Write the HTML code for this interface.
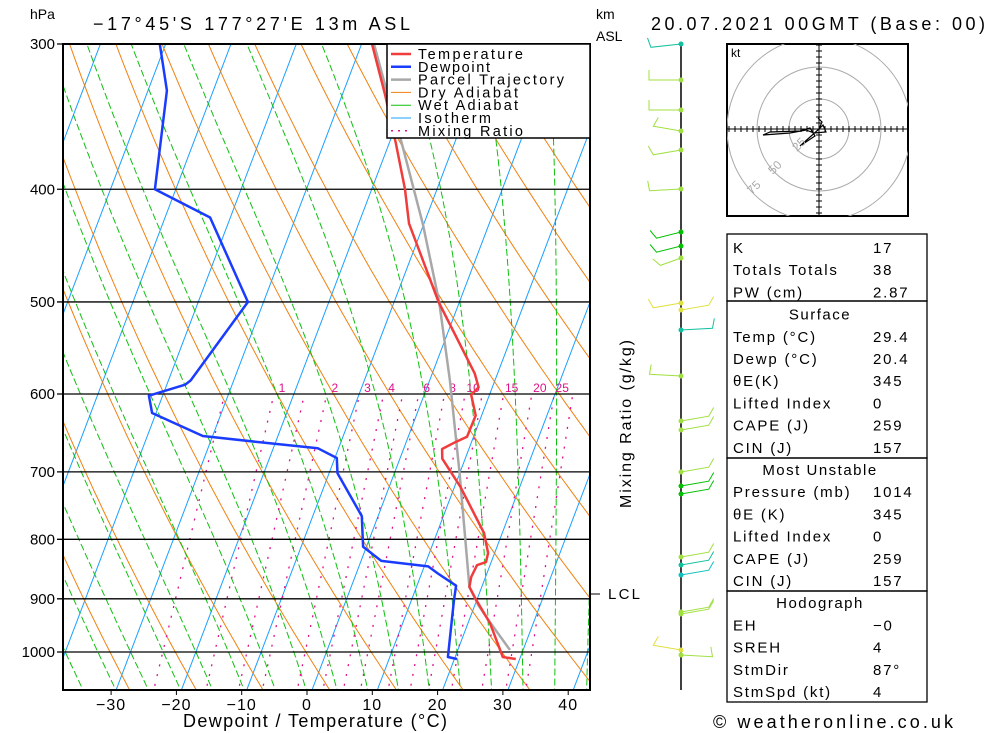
<!DOCTYPE html>
<html><head><meta charset="utf-8"><style>
html,body{margin:0;padding:0;background:#fff;}
svg{display:block;font-family:"Liberation Sans",sans-serif;}
</style></head><body>
<svg id="chart" width="1000" height="733" viewBox="0 0 1000 733" xmlns="http://www.w3.org/2000/svg">
<defs><clipPath id="plotclip"><rect x="63" y="44" width="527" height="646"/></clipPath>
<clipPath id="hodoclip"><rect x="727" y="44" width="181" height="172"/></clipPath></defs>
<rect x="0" y="0" width="1000" height="733" fill="#fff"/>
<text x="30" y="19" font-size="14">hPa</text>
<text x="93" y="30" font-size="18" textLength="317" lengthAdjust="spacing">−17°45'S 177°27'E 13m ASL</text>
<text x="596" y="19" font-size="14">km</text>
<text x="596" y="41" font-size="14">ASL</text>
<text x="651" y="30" font-size="18" textLength="334" lengthAdjust="spacing">20.07.2021 00GMT (Base: 00)</text>
<g id="bg" clip-path="url(#plotclip)"></g>
<g id="grid"></g>
<g id="series" clip-path="url(#plotclip)"></g>
<rect x="63" y="44" width="527" height="646" fill="none" stroke="#000" stroke-width="2"/>
<g id="legend"></g>
<g id="xaxis"></g>
<text x="183" y="727" font-size="18" textLength="264" lengthAdjust="spacing">Dewpoint / Temperature (°C)</text>
<text transform="translate(631,508) rotate(-90)" font-size="16" textLength="168" lengthAdjust="spacing">Mixing Ratio (g/kg)</text>
<line x1="590" y1="594" x2="600" y2="594" stroke="#000"/>
<text x="608" y="599" font-size="15" textLength="32" lengthAdjust="spacing">LCL</text>
<g id="winds"></g>
<g id="hodo"></g>
<g id="table"></g>
<text x="713" y="728" font-size="18" textLength="240" lengthAdjust="spacing">© weatheronline.co.uk</text>
</svg>
<script>
// ---- data ----
const pLevels = [300,400,500,600,700,800,900,1000];
const tTicks = [-30,-20,-10,0,10,20,30,40];
const tempP = [300,332,365,400,428,500,576,592,601,626,653,660,669,682,721,790,822,837,842,862,879,902,945,1010,1014];
const tempT = [-28.4,-23.4,-19.0,-14.9,-12.3,-3.2,6.5,7.9,7.2,9.1,9.0,7.5,5.9,6.5,10.9,17.2,19.0,19.2,18.0,17.8,18.1,19.9,23.4,27.3,29.4];
const dewP = [300,329,400,423,500,584,589,602,623,652,661,668,681,702,764,812,835,844,856,877,902,1010,1014];
const dewT = [-60.9,-57.1,-53.2,-43.1,-32.4,-36.6,-37.2,-42.1,-40.6,-31.5,-21.4,-13.2,-9.7,-8.7,-2.5,-0.5,3.1,10.6,12.5,16.0,16.5,18.9,20.4];
const parcelP = [300,332,365,428,500,584,702,879,911,945,996];
const parcelT = [-28.1,-23.0,-18.1,-10.2,-3.1,3.1,10.0,18.1,20.5,23.5,28.0];
const mixRatios = [0.5,1,1.5,2,3,4,5,6,8,10,12,15,20,25,30];
const mixLabels = ["1","2","3","4","6","8","10","15","20","25"];
const mixLabelVals = [1,2,3,4,6,8,10,15,20,25];
const tableRows = [
 ["K","17"],["Totals Totals","38"],["PW (cm)","2.87"],
 ["#Surface"],["Temp (°C)","29.4"],["Dewp (°C)","20.4"],["θE(K)","345"],["Lifted Index","0"],["CAPE (J)","259"],["CIN (J)","157"],
 ["#Most Unstable"],["Pressure (mb)","1014"],["θE (K)","345"],["Lifted Index","0"],["CAPE (J)","259"],["CIN (J)","157"],
 ["#Hodograph"],["EH","−0"],["SREH","4"],["StmDir","87°"],["StmSpd (kt)","4"]];
const windY = [44,80,110,131,150,189,232,246,258,303,310,330,376,421,430,472,486,494,557,565,575,612,614,650,655];
const windDir = [250,270,270,300,240,260,230,230,220,240,60,80,280,60,60,60,60,60,60,60,60,60,60,300,100];
const windCol = ["#10c0a0","#a0e040","#a0e040","#a0e040","#a0e040","#a0e040","#00c000","#00c000","#a0e040","#e0e040","#e0e040","#10c0a0","#a0e040","#a0e040","#a0e040","#a0e040","#00c000","#00c000","#a0e040","#10c0a0","#10c0c0","#a0e040","#a0e040","#e0e040","#a0e040"];

// ---- axes ----
const NS="http://www.w3.org/2000/svg";
function yOf(p){return 652-505*Math.log(1000/p);}
function xOf(T,p){return 312+6.53*T+0.38*(690-yOf(p));}
function mk(tag,attrs,parent){const e=document.createElementNS(NS,tag);for(const k in attrs)e.setAttribute(k,attrs[k]);parent.appendChild(e);return e;}
function pathFrom(pts){return pts.map((q,i)=>(i?"L":"M")+q[0].toFixed(1)+","+q[1].toFixed(1)).join("");}
const bg=document.getElementById('bg');
const P0=250,P1=1090;
for(let T=-120;T<=50;T+=10){
  const l=mk('line',{x1:xOf(T,P1),y1:yOf(P1),x2:xOf(T,P0),y2:yOf(P0),stroke:'#1aa0ff','stroke-width':1},bg);
  
  
}
for(let th=220;th<=480;th+=10){
  const pts=[];for(let p=P1;p>=P0;p-=10){pts.push([xOf(th*Math.pow(p/1000,0.286)-273.15,p),yOf(p)]);}
  const e=mk('path',{d:pathFrom(pts),fill:'none',stroke:'#f08010','stroke-width':1},bg);
  
  
}
function es(T){return 6.112*Math.exp(17.67*T/(T+243.5));}
function dTdp(T,p){const Tk=T+273.15;const rs=0.622*es(T)/(p-es(T));const Rd=287,Lv=2.5e6,cp=1004;
  return (Rd*Tk+Lv*rs)/(p*(cp+Lv*Lv*rs*0.622/(Rd*Tk*Tk)));}
for(let t0=-40;t0<=40;t0+=5){
  const up=[];let T=t0;for(let p=1000;p>=P0;p-=5){up.push([xOf(T,p),yOf(p)]);T-=dTdp(T,p)*5;}
  const dn=[];T=t0;for(let p=1000;p<=P1;p+=5){dn.push([xOf(T,p),yOf(p)]);T+=dTdp(T,p)*5;}
  const pts=dn.reverse().concat(up);
  const e=mk('path',{d:pathFrom(pts),fill:'none',stroke:'#10c010','stroke-width':1,'stroke-dasharray':'7,3'},bg);
  
  
}
function tdOf(w,p){const e=w*p/(622+w);const l=Math.log(e/6.112);return 243.5*l/(17.67-l);}
mixRatios.forEach(w=>{
  const e=mk('line',{x1:xOf(tdOf(w,P1),P1),y1:yOf(P1),x2:xOf(tdOf(w,600),600),y2:yOf(600),stroke:'#e0108a','stroke-width':1.3,'stroke-dasharray':'2,8'},bg);
  
  
});
mixLabelVals.forEach((w,i)=>{
  const t=mk('text',{x:xOf(tdOf(w,600),600)+8,y:yOf(600)-2,'font-size':12,fill:'#e0108a','text-anchor':'middle'},bg);
  t.textContent=mixLabels[i];
  
  
});
const grid=document.getElementById('grid');
pLevels.forEach(p=>{
  const y=yOf(p);
  const l=mk('line',{x1:57,y1:y,x2:590,y2:y,stroke:'#000','stroke-width':1.3},grid);
  
  
  const t=mk('text',{x:55,y:y+5,'font-size':15,'text-anchor':'end'},grid);
  t.textContent=p;
  
  
});
const xa=document.getElementById('xaxis');
tTicks.forEach(T=>{
  const x=312+6.53*T-5;
  const l=mk('line',{x1:x,y1:690,x2:x,y2:695,stroke:'#000'},xa);
  
  
  const t=mk('text',{x:x,y:710,'font-size':16,'text-anchor':'middle','letter-spacing':1},xa);
  t.textContent=(T<0?'−'+(-T):T);
  
  
});
const sg=document.getElementById('series');
function drawSeries(P,T,color,w,name){
  const pts=P.map((p,i)=>[xOf(T[i],p),yOf(p)]);
  const e=mk('path',{d:pathFrom(pts),fill:'none',stroke:color,'stroke-width':w,'stroke-linejoin':'round'},sg);
  
  
}
drawSeries(parcelP,parcelT,'#a8a8a8',2.5,'parcel-trajectory-line');
drawSeries(dewP,dewT,'#1a3cff',2.5,'dewpoint-line');
drawSeries(tempP,tempT,'#f03c3c',2.5,'temperature-line');
const lg=document.getElementById('legend');
mk('rect',{x:387,y:44,width:203,height:94,fill:'#fff',stroke:'#000','stroke-width':1.5},lg);
const legItems=[["Temperature","#f03c3c",2.5,"",105],["Dewpoint","#1a3cff",2.5,"",72],["Parcel Trajectory","#a8a8a8",2.5,"",146],["Dry Adiabat","#f08010",1,"",100],["Wet Adiabat","#10c010",1,"",100],["Isotherm","#1aa0ff",1,"",73],["Mixing Ratio","#e0108a",1.5,"2,5",105]];
legItems.forEach((it,i)=>{
  const y=54+i*12.8;
  const l=mk('line',{x1:391,y1:y,x2:411,y2:y,stroke:it[1],'stroke-width':it[2],'stroke-dasharray':it[3]||'none'},lg);
  
  
  const t=mk('text',{x:418,y:y+5,'font-size':14.5,textLength:it[4],lengthAdjust:'spacing'},lg);
  t.textContent=it[0];
  
  
});
const wg=document.getElementById('winds');
mk('line',{x1:681,y1:44,x2:681,y2:690,stroke:'#000','stroke-width':1.5},wg);
windY.forEach((y,i)=>{
  const a=windDir[i]*Math.PI/180;const L=32;
  const x2=681+L*Math.sin(a),y2=y-L*Math.cos(a)*0.3;
  const fx=x2+10*Math.cos(a),fy=y2-10*Math.abs(Math.sin(a));
  const e=mk('polyline',{points:`681,${y} ${x2.toFixed(1)},${y2.toFixed(1)} ${fx.toFixed(1)},${fy.toFixed(1)}`,fill:'none',stroke:windCol[i],'stroke-width':1},wg);
  
  
  const c=mk('circle',{cx:681,cy:y,r:2.5,fill:windCol[i]},wg);
  
  
});
const hg=document.getElementById('hodo');
mk('rect',{x:727,y:44,width:181,height:172,fill:'#fff',stroke:'#000','stroke-width':2},hg);
const hc=mk('g',{'clip-path':'url(#hodoclip)'},hg);
[30,62,92].forEach(r=>mk('circle',{cx:819,cy:129,r:r,fill:'none',stroke:'#aaa'},hc));
mk('line',{x1:727,y1:129,x2:908,y2:129,stroke:'#000'},hc);
mk('line',{x1:819,y1:44,x2:819,y2:216,stroke:'#000'},hc);
for(let k=-15;k<=15;k++){if(!k)continue;mk('line',{x1:819+k*6,y1:126,x2:819+k*6,y2:132,stroke:'#000'},hc);mk('line',{x1:816,y1:129+k*6,x2:822,y2:129+k*6,stroke:'#000'},hc);}
mk('polyline',{points:'819,129 823,125 826,132 814,133 806,130 790,133 763,135 770,132 800,131 810,128 815,136 800,146 819,129 822,122 818,118',fill:'none',stroke:'#000','stroke-width':1.2},hc);
[["25",797,152],["50",773,175],["75",752,195]].forEach(l=>{const t=mk('text',{x:l[1],y:l[2],'font-size':12,fill:'#aaa',transform:`rotate(-45 ${l[1]} ${l[2]})`},hc);t.textContent=l[0];});
const kt=mk('text',{x:731,y:57,'font-size':12},hg);kt.textContent='kt';
const tg=document.getElementById('table');
const boxes=[[234,301],[301,458],[458,591],[591,702]];
boxes.forEach(b=>{const r=mk('rect',{x:727,y:b[0],width:200,height:b[1]-b[0],fill:'none',stroke:'#000','stroke-width':1.3},tg);});
tableRows.forEach((r,i)=>{
  const yy=253+i*22.2;
  if(r[0][0]==='#'){const t=mk('text',{x:820,y:yy,'font-size':15,'text-anchor':'middle','letter-spacing':1.5},tg);t.textContent=r[0].slice(1);return;}
  const a=mk('text',{x:733,y:yy,'font-size':15,'letter-spacing':1.8},tg);a.textContent=r[0];
  
  
  const b=mk('text',{x:873,y:yy,'font-size':15,'letter-spacing':1.8},tg);b.textContent=r[1];
  
  
});
</script>
</body></html>
